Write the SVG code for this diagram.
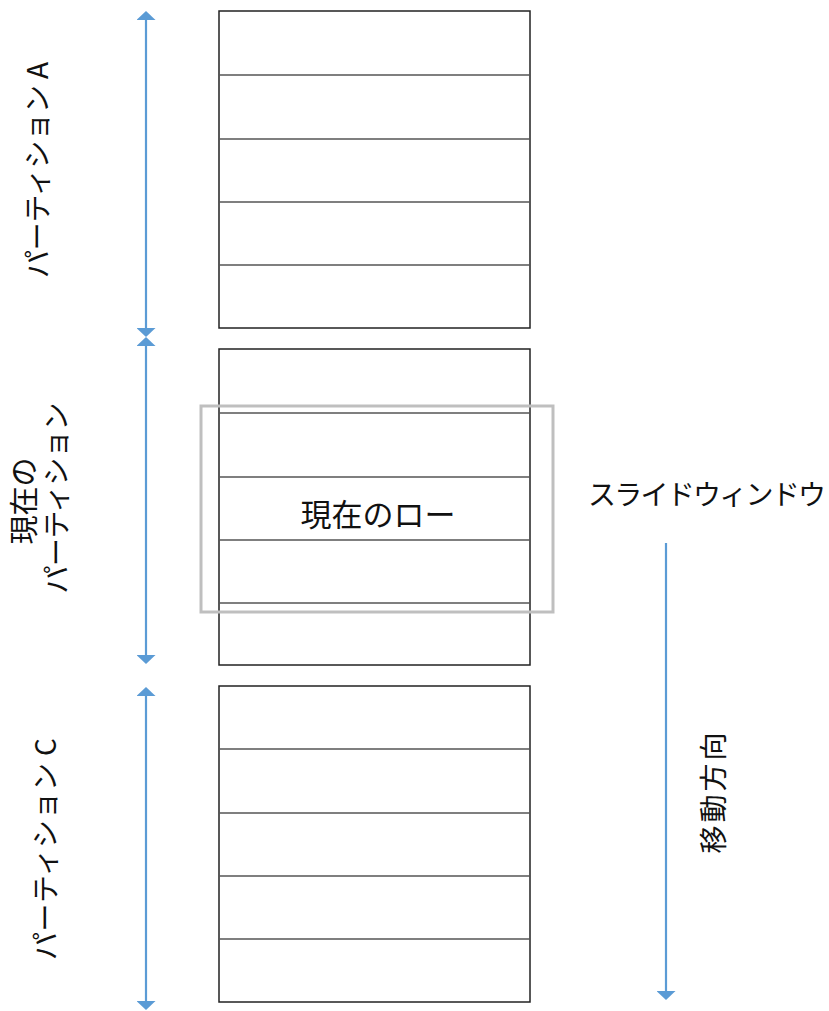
<svg xmlns="http://www.w3.org/2000/svg" width="829" height="1011" viewBox="0 0 829 1011">
<style>
.box{fill:#fff;stroke:#222;stroke-width:1.5}
.row{stroke:#555;stroke-width:1.5}
.arr{stroke:#5B9BD5;stroke-width:2.2;fill:none}
.t{font-family:"Noto Sans CJK JP","Liberation Sans",sans-serif;font-size:28px;fill:#111}
.win{fill:none;stroke:#BFBFBF;stroke-width:3}
</style>
<defs>
<marker id="h" viewBox="0 0 9 19" refX="6" refY="9.5" markerWidth="9" markerHeight="19" markerUnits="userSpaceOnUse" orient="auto-start-reverse">
<path d="M0,0 L9,9.5 L0,19 Z" fill="#5B9BD5"/>
</marker>
</defs>
<g id="partitionA">
<rect class="box" x="219" y="11" width="311" height="317"/>
<line class="row" x1="219" y1="75" x2="530" y2="75"/>
<line class="row" x1="219" y1="139" x2="530" y2="139"/>
<line class="row" x1="219" y1="202" x2="530" y2="202"/>
<line class="row" x1="219" y1="265" x2="530" y2="265"/>
</g>
<g id="partitionB">
<rect class="box" x="219" y="349" width="311" height="316"/>
<line class="row" x1="219" y1="413" x2="530" y2="413"/>
<line class="row" x1="219" y1="477" x2="530" y2="477"/>
<line class="row" x1="219" y1="540" x2="530" y2="540"/>
<line class="row" x1="219" y1="603" x2="530" y2="603"/>
<text class="t" x="378" y="526" text-anchor="middle" style="font-size:31px">現在のロー</text>
</g>
<g id="partitionC">
<rect class="box" x="219" y="686" width="311" height="316"/>
<line class="row" x1="219" y1="749" x2="530" y2="749"/>
<line class="row" x1="219" y1="813" x2="530" y2="813"/>
<line class="row" x1="219" y1="876" x2="530" y2="876"/>
<line class="row" x1="219" y1="939" x2="530" y2="939"/>
</g>
<g id="window">
<rect class="win" x="201" y="406" width="352" height="206"/>
<text class="t" x="707" y="505" text-anchor="middle" textLength="238" lengthAdjust="spacing">スライドウィンドウ</text>
</g>
<g id="connectors">
<line class="arr" x1="146" y1="14" x2="146" y2="334" marker-start="url(#h)" marker-end="url(#h)"/>
<line class="arr" x1="146" y1="340" x2="146" y2="661" marker-start="url(#h)" marker-end="url(#h)"/>
<line class="arr" x1="146" y1="690" x2="146" y2="1007" marker-start="url(#h)" marker-end="url(#h)"/>
<line class="arr" x1="666" y1="543" x2="666" y2="997" marker-end="url(#h)"/>
</g>
<g id="labels">
<text class="t" transform="translate(48,170) rotate(-90)" text-anchor="middle" textLength="216" lengthAdjust="spacing">パーティション A</text>
<text class="t" transform="translate(35,501) rotate(-90)" text-anchor="middle" style="font-size:29px">現在の</text>
<text class="t" transform="translate(67,498) rotate(-90)" text-anchor="middle" textLength="191" lengthAdjust="spacing">パーティション</text>
<text class="t" transform="translate(56,849) rotate(-90)" text-anchor="middle" textLength="222" lengthAdjust="spacing">パーティション C</text>
<text class="t" transform="translate(724,793) rotate(-90)" text-anchor="middle" textLength="121" lengthAdjust="spacing">移動方向</text>
</g>
</svg>
